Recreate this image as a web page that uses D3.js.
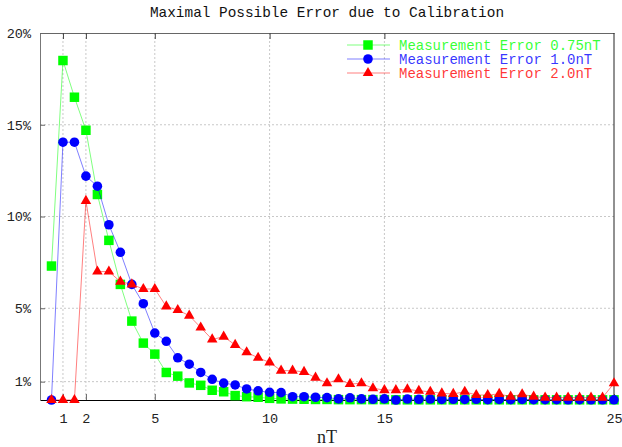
<!DOCTYPE html>
<html>
<head>
<meta charset="utf-8">
<script src="https://cdn.jsdelivr.net/npm/d3@7"></script>
<style>
  body { margin: 0; background: #fff; }
</style>
</head>
<body>
<div id="chart"></div>
<script>
// x positions of the samples (nT)
var nT = [0.5, 1, 1.5, 2, 2.5, 3, 3.5, 4, 4.5, 5, 5.5, 6, 6.5, 7, 7.5, 8, 8.5, 9, 9.5, 10,
          10.5, 11, 11.5, 12, 12.5, 13, 13.5, 14, 14.5, 15, 15.5, 16, 16.5, 17, 17.5, 18, 18.5, 19, 19.5, 20,
          20.5, 21, 21.5, 22, 22.5, 23, 23.5, 24, 24.5, 25];

// error in percent
var err075 = [7.3, 18.5, 16.5, 14.7, 11.2, 8.7, 6.3, 4.3, 3.1, 2.5, 1.5, 1.3, 0.93, 0.8, 0.53, 0.45, 0.24, 0.18, 0.15, 0.09,
              0.06, 0.05, 0.04, 0.03, 0.03, 0.02, 0.02, 0.02, 0.02, 0.02, 0.01, 0.01, 0.01, 0.01, 0.01, 0.01, 0.01, 0.01, 0.01, 0.01,
              0.01, 0.01, 0.01, 0.01, 0.01, 0.01, 0.01, 0.01, 0.01, 0.01];
var err10 = [0, 14.05, 14.05, 12.2, 11.65, 9.55, 8.05, 6.3, 5.25, 3.65, 3.2, 2.3, 1.95, 1.5, 1.13, 0.92, 0.82, 0.6, 0.5, 0.42,
             0.4, 0.18, 0.18, 0.15, 0.13, 0.06, 0.12, 0.06, 0.04, 0.06, 0.0, 0.05, 0.04, 0.05, 0.03, 0.04, 0.03, 0.04, 0.02, 0.03,
             0.02, 0.03, 0.02, 0.02, 0.02, 0.01, 0.02, 0.01, 0.01, 0.01];
var err20 = [0, 0, 0, 10.85, 7.0, 7.0, 6.45, 6.3, 6.05, 6.05, 5.1, 4.9, 4.6, 3.95, 3.3, 3.45, 3.0, 2.6, 2.3, 2.05,
             1.6, 1.6, 1.53, 1.22, 0.91, 1.13, 0.87, 0.91, 0.64, 0.54, 0.54, 0.58, 0.5, 0.45, 0.36, 0.33, 0.45, 0.27, 0.27, 0.33,
             0.18, 0.31, 0.18, 0.13, 0.13, 0.13, 0.13, 0.13, 0.13, 0.91];

var seriesNames = ["Measurement Error 0.75nT", "Measurement Error 1.0nT", "Measurement Error 2.0nT"];
var seriesColors = ["#00ff00", "#0000ff", "#ff0000"];
var seriesShapes = [d3.symbolSquare, d3.symbolCircle, d3.symbolTriangle];
var seriesValues = [err075, err10, err20];

var xTicks = [1, 2, 5, 10, 15, 25];
var yTicks = [1, 5, 10, 15, 20];

var width = 622, height = 447;
// plot box (note: "top" is reserved on window, so use other names)
var plotLeft = 40, plotRight = 614, plotTop = 33, plotBottom = 400;
var mono = "'Liberation Mono', 'DejaVu Sans Mono', monospace";

var svg = d3.select("#chart").append("svg")
    .attr("width", width)
    .attr("height", height);

var x = d3.scaleLinear().domain([0, 25]).range([plotLeft, plotRight]);
var y = d3.scaleLinear().domain([0, 20]).range([plotBottom, plotTop]);

// grid, dotted
svg.append("g").selectAll("line")
    .data(xTicks.filter(function (d) { return d < 25; }))
    .enter().append("line")
    .attr("x1", function (d) { return x(d); })
    .attr("x2", function (d) { return x(d); })
    .attr("y1", plotTop).attr("y2", plotBottom)
    .attr("stroke", "#c8c8c8")
    .attr("stroke-dasharray", "2,2");

svg.append("g").selectAll("line")
    .data(yTicks.filter(function (d) { return d < 20; }))
    .enter().append("line")
    .attr("x1", plotLeft).attr("x2", plotRight)
    .attr("y1", function (d) { return y(d); })
    .attr("y2", function (d) { return y(d); })
    .attr("stroke", "#c8c8c8")
    .attr("stroke-dasharray", "2,2");

// axes through d3, ticks pointing inwards
var xAxisBottom = svg.append("g")
    .attr("transform", "translate(0," + plotBottom + ")")
    .call(d3.axisBottom(x).tickValues(xTicks).tickSizeInner(-6).tickSizeOuter(0).tickPadding(13));
var xAxisTop = svg.append("g")
    .attr("transform", "translate(0," + plotTop + ")")
    .call(d3.axisTop(x).tickValues(xTicks.filter(function (d) { return d < 25; })).tickSizeInner(-6).tickSizeOuter(0).tickFormat(""));
var yAxis = svg.append("g")
    .attr("transform", "translate(" + plotLeft + ",0)")
    .call(d3.axisLeft(y).tickValues(yTicks).tickSizeInner(-5).tickSizeOuter(0).tickPadding(9)
        .tickFormat(function (d) { return d + "%"; }));

xAxisBottom.select(".domain").attr("stroke", "#000");
xAxisTop.select(".domain").attr("stroke", "#666");
yAxis.select(".domain").attr("stroke", "#777");
xAxisTop.selectAll(".tick line").attr("stroke", "#444");
xAxisBottom.selectAll(".tick line").attr("stroke", "#666");
yAxis.selectAll(".tick line").attr("stroke", "#666");

svg.selectAll(".tick text")
    .attr("font-family", mono)
    .attr("font-size", 13.5)
    .attr("fill", "#222");

// right border
svg.append("line")
    .attr("x1", plotRight).attr("x2", plotRight)
    .attr("y1", plotTop).attr("y2", plotBottom)
    .attr("stroke", "#222");

// series: line + markers
var line = d3.line()
    .x(function (d) { return x(d[0]); })
    .y(function (d) { return y(d[1]); });

var symbolSizes = [90, 72, 48];

seriesValues.forEach(function (vals, s) {
    var pts = nT.map(function (t, i) { return [t, vals[i]]; });
    var g = svg.append("g");
    g.append("path")
        .datum(pts)
        .attr("d", line)
        .attr("fill", "none")
        .attr("stroke", seriesColors[s])
        .attr("stroke-opacity", 0.5)
        .attr("stroke-width", 1);
    g.selectAll("path.pt")
        .data(pts)
        .enter().append("path")
        .attr("class", "pt")
        .attr("d", d3.symbol().type(seriesShapes[s]).size(symbolSizes[s]))
        .attr("transform", function (d) { return "translate(" + x(d[0]) + "," + y(d[1]) + ")"; })
        .attr("fill", seriesColors[s]);
});

// legend
var legend = svg.append("g");
seriesNames.forEach(function (name, s) {
    var ly = 45 + s * 14;
    legend.append("line")
        .attr("x1", 347).attr("x2", 390)
        .attr("y1", ly).attr("y2", ly)
        .attr("stroke", seriesColors[s])
        .attr("stroke-opacity", 0.5);
    legend.append("path")
        .attr("d", d3.symbol().type(seriesShapes[s]).size(symbolSizes[s]))
        .attr("transform", "translate(368," + ly + ")")
        .attr("fill", seriesColors[s]);
    legend.append("text")
        .attr("x", 399)
        .attr("y", ly)
        .attr("dy", "0.35em")
        .attr("font-family", mono)
        .attr("font-size", 14)
        .attr("fill", seriesColors[s])
        .attr("fill-opacity", 0.8)
        .text(name);
});

// title and x label
svg.append("text")
    .attr("x", (plotLeft + plotRight) / 2)
    .attr("y", 12)
    .attr("dy", "0.35em")
    .attr("text-anchor", "middle")
    .attr("font-family", mono)
    .attr("font-size", 14.4)
    .attr("fill", "#111")
    .text("Maximal Possible Error due to Calibration");

svg.append("text")
    .attr("x", (plotLeft + plotRight) / 2)
    .attr("y", 437)
    .attr("dy", "0.35em")
    .attr("text-anchor", "middle")
    .attr("font-family", "'Liberation Serif', serif")
    .attr("font-size", 18)
    .attr("fill", "#222")
    .text("nT");
</script>
</body>
</html>
